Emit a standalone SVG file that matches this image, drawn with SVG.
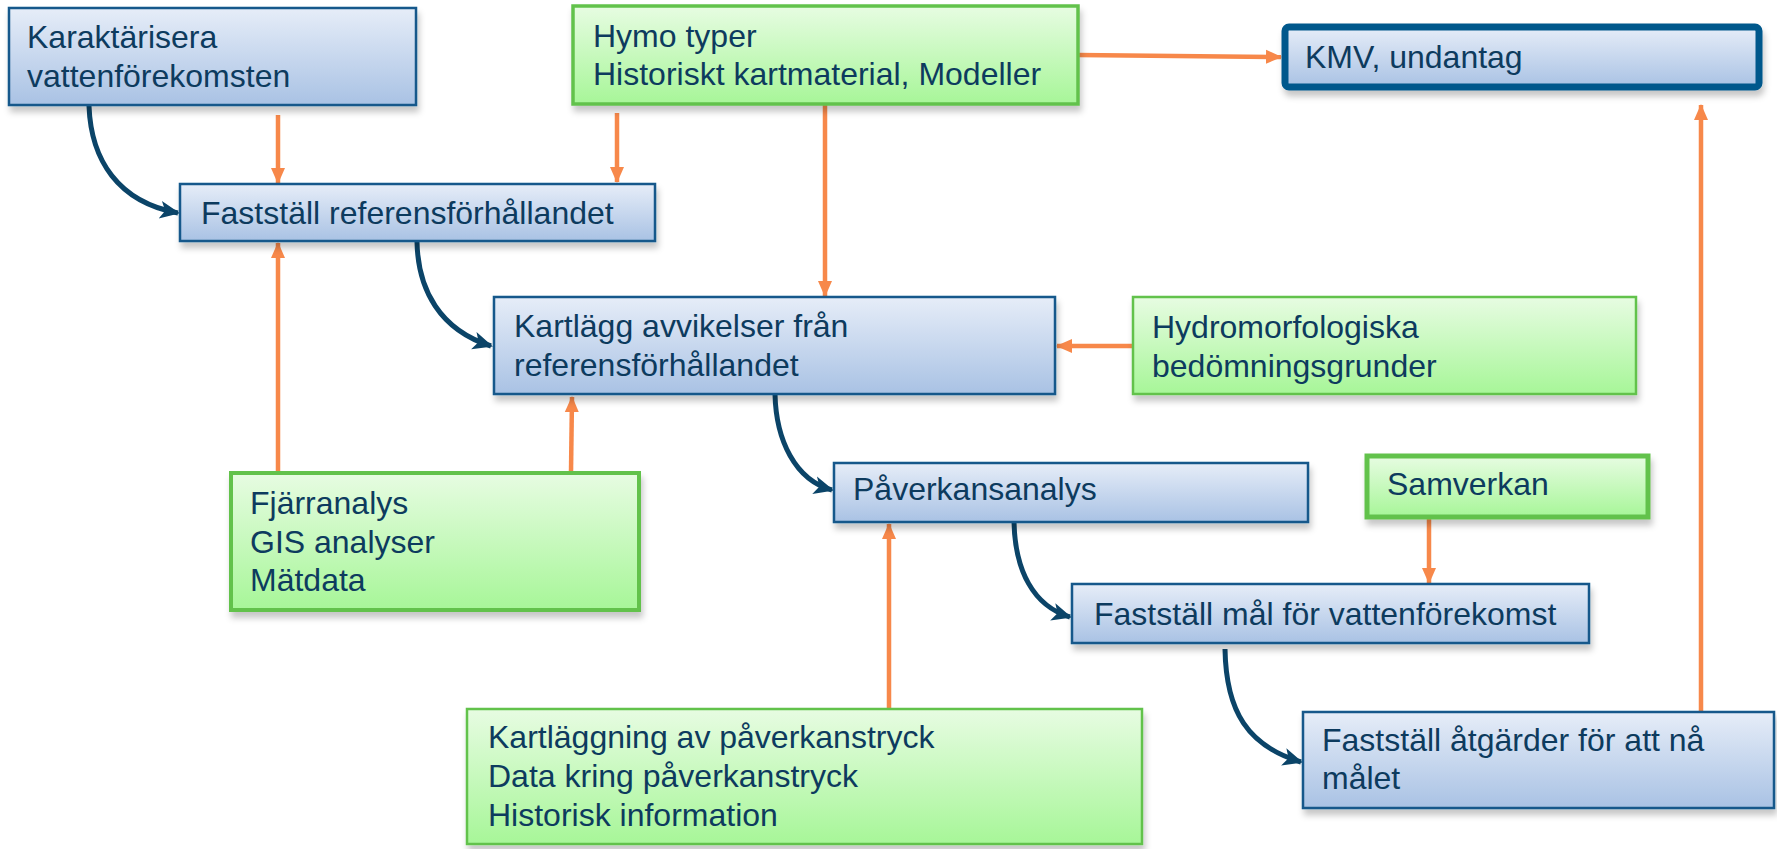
<svg xmlns="http://www.w3.org/2000/svg" width="1777" height="849" viewBox="0 0 1777 849">
<style>
text{font-family:"Liberation Sans",Arial,sans-serif;font-size:32px;fill:#0D3B5E}
.blue{fill:url(#gb);stroke:#17598B;stroke-width:2.5;filter:url(#sh)}
.green{fill:url(#gg);stroke:#62C24C;filter:url(#sh)}
.or{stroke:#F7884A;stroke-width:4.5;fill:none;marker-end:url(#ao)}
.dk{stroke:#0B4468;stroke-width:5;fill:none;marker-end:url(#ab)}
</style>
<defs>
<linearGradient id="gb" x1="0" y1="0" x2="0" y2="1"><stop offset="0" stop-color="#E6EDF8"/><stop offset="1" stop-color="#A9C2E4"/></linearGradient>
<linearGradient id="gg" x1="0" y1="0" x2="0" y2="1"><stop offset="0" stop-color="#E7FCE2"/><stop offset="1" stop-color="#A7F698"/></linearGradient>
<filter id="sh" x="-5%" y="-10%" width="115%" height="140%"><feDropShadow dx="2" dy="6" stdDeviation="3" flood-color="#000" flood-opacity="0.22"/></filter>
<marker id="ao" markerUnits="userSpaceOnUse" markerWidth="16" markerHeight="16" refX="15" refY="8" orient="auto"><path d="M0,1 L16,8 L0,15 z" fill="#F7884A"/></marker>
<marker id="ab" markerUnits="userSpaceOnUse" markerWidth="20" markerHeight="20" refX="18" refY="10" orient="auto"><path d="M0,1 L20,10 L0,19 L5,10 z" fill="#0B4468"/></marker>
</defs>

<g id="connectors">
<path class="or" d="M278 115 L278 183"/>
<path class="or" d="M617 113 L617 182"/>
<path class="or" d="M825 104 L825 296"/>
<path class="or" d="M1078 55 L1281 57"/>
<path class="or" d="M1133 346 L1057 346"/>
<path class="or" d="M278 472 L278 243"/>
<path class="or" d="M571 472 L572 397"/>
<path class="or" d="M889 708 L889 524"/>
<path class="or" d="M1429 519 L1429 583"/>
<path class="or" d="M1701 711 L1701 105"/>
<path class="dk" d="M89 106 C91 160, 118 202, 178 213"/>
<path class="dk" d="M417 242 C418 290, 440 330, 491 346"/>
<path class="dk" d="M775 394 C776 440, 795 480, 832 490"/>
<path class="dk" d="M1014 522 C1015 570, 1033 606, 1070 617"/>
<path class="dk" d="M1225 649 C1226 712, 1248 746, 1301 762"/>
</g>

<g id="karakterisera">
<rect class="blue" x="9" y="8" width="407" height="97"/>
<text x="27" y="48">Karaktärisera</text>
<text x="27" y="87">vattenförekomsten</text>
</g>

<g id="hymo">
<rect class="green" x="573" y="6" width="505" height="98" stroke-width="3.5"/>
<text x="593" y="47">Hymo typer</text>
<text x="593" y="85">Historiskt kartmaterial, Modeller</text>
</g>

<g id="kmv">
<rect x="1285" y="27" width="474" height="60" rx="4" fill="url(#gb)" stroke="#02598C" stroke-width="7" filter="url(#sh)"/>
<text x="1305" y="68">KMV, undantag</text>
</g>

<g id="faststall-ref">
<rect class="blue" x="180" y="184" width="475" height="57"/>
<text x="201" y="224">Fastställ referensförhållandet</text>
</g>

<g id="kartlagg">
<rect class="blue" x="494" y="297" width="561" height="97"/>
<text x="514" y="337">Kartlägg avvikelser från</text>
<text x="514" y="376">referensförhållandet</text>
</g>

<g id="hydromorf">
<rect class="green" x="1133" y="297" width="503" height="97" stroke-width="2.5"/>
<text x="1152" y="338">Hydromorfologiska</text>
<text x="1152" y="377">bedömningsgrunder</text>
</g>

<g id="fjarranalys">
<rect class="green" x="231" y="473" width="408" height="137" stroke-width="4"/>
<text x="250" y="514">Fjärranalys</text>
<text x="250" y="553">GIS analyser</text>
<text x="250" y="591">Mätdata</text>
</g>

<g id="paverkansanalys">
<rect class="blue" x="834" y="463" width="474" height="59"/>
<text x="853" y="500">Påverkansanalys</text>
</g>

<g id="samverkan">
<rect class="green" x="1367" y="456" width="281" height="61" stroke-width="5"/>
<text x="1387" y="495">Samverkan</text>
</g>

<g id="faststall-mal">
<rect class="blue" x="1072" y="584" width="517" height="59"/>
<text x="1094" y="625">Fastställ mål för vattenförekomst</text>
</g>

<g id="kartlaggning">
<rect class="green" x="467" y="709" width="675" height="135" stroke-width="2.5"/>
<text x="488" y="748">Kartläggning av påverkanstryck</text>
<text x="488" y="787">Data kring påverkanstryck</text>
<text x="488" y="826">Historisk information</text>
</g>

<g id="atgarder">
<rect class="blue" x="1303" y="712" width="471" height="96"/>
<text x="1322" y="751">Fastställ åtgärder för att nå</text>
<text x="1322" y="789">målet</text>
</g>
</svg>
